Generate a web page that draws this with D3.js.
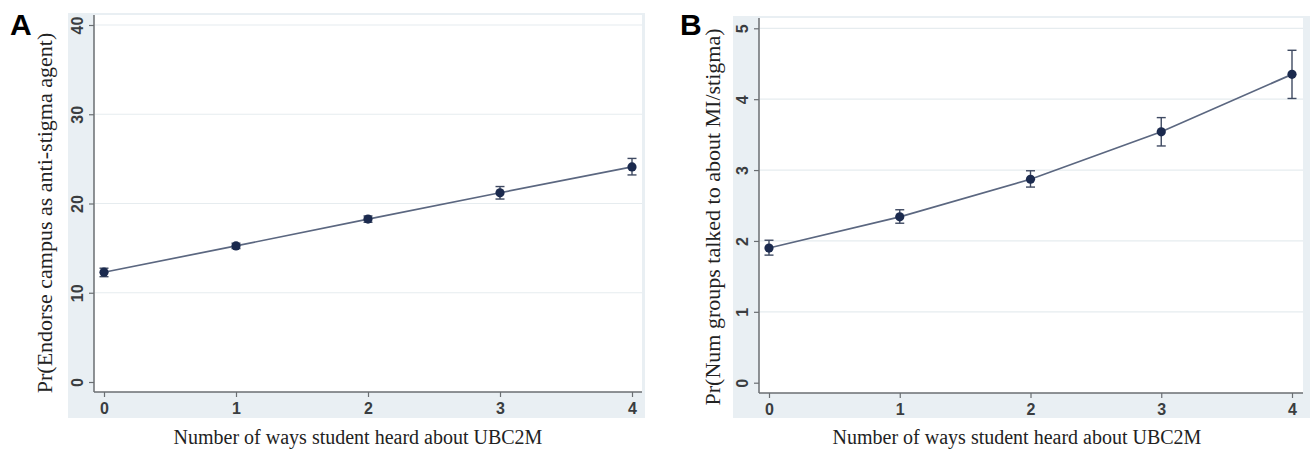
<!DOCTYPE html>
<html>
<head>
<meta charset="utf-8">
<script src="https://cdn.jsdelivr.net/npm/d3@7"></script>
<style>
  html, body { margin: 0; padding: 0; background: #ffffff; }
  svg { display: block; }
</style>
</head>
<body>
<svg id="chart" width="1310" height="450"></svg>
<script>
// ---- data ----
const ways = [0, 1, 2, 3, 4];
const xTicks = [0, 1, 2, 3, 4];

const endorseValues = [12.3, 15.25, 18.25, 21.2, 24.1];
const endorseLower  = [11.8, 14.95, 17.9, 20.5, 23.2];
const endorseUpper  = [12.75, 15.55, 18.6, 21.9, 25.05];
const endorseTicks  = [0, 10, 20, 30, 40];

const groupsValues = [1.90, 2.34, 2.87, 3.54, 4.35];
const groupsLower  = [1.80, 2.25, 2.76, 3.34, 4.01];
const groupsUpper  = [2.01, 2.44, 2.99, 3.74, 4.69];
const groupsTicks  = [0, 1, 2, 3, 4, 5];

const xTitle = "Number of ways student heard about UBC2M";

const svg = d3.select("#chart");
const fmt = d3.format("d");

function panel(cfg) {
  const g = svg.append("g");
  // outer gray region
  g.append("rect")
    .attr("x", cfg.grayX0).attr("y", cfg.grayY0)
    .attr("width", cfg.grayX1 - cfg.grayX0).attr("height", cfg.grayY1 - cfg.grayY0)
    .attr("fill", "#e9eff3");
  // plot region
  g.append("rect")
    .attr("x", cfg.plotX0).attr("y", cfg.plotY0)
    .attr("width", cfg.plotX1 - cfg.plotX0).attr("height", cfg.plotY1 - cfg.plotY0)
    .attr("fill", "#ffffff");

  const x = d3.scaleLinear().domain([0, 4]).range([cfg.x0, cfg.x4]);
  const y = d3.scaleLinear().domain(cfg.yDomain).range(cfg.yRange);

  // grid lines
  g.append("g").selectAll("line")
    .data(cfg.yTicks.filter(d => d !== 0))
    .join("line")
    .attr("x1", cfg.plotX0 + 1).attr("x2", cfg.plotX1)
    .attr("y1", d => y(d)).attr("y2", d => y(d))
    .attr("stroke", "#e6ecef").attr("stroke-width", 1.2);

  // y axis
  const yAxis = g.append("g")
    .attr("transform", `translate(${cfg.plotX0},0)`)
    .call(d3.axisLeft(y).tickValues(cfg.yTicks).tickFormat(fmt).tickSize(5).tickSizeOuter(0));
  yAxis.select(".domain").remove();
  yAxis.append("line")
    .attr("x1", 0).attr("x2", 0)
    .attr("y1", cfg.plotY0).attr("y2", cfg.plotY1)
    .attr("stroke", "#6a6e72").attr("stroke-width", 1.5);
  yAxis.selectAll(".tick line").attr("stroke", "#6a6e72").attr("stroke-width", 1.2);
  yAxis.selectAll(".tick text")
    .attr("fill", "#3a3d40")
    .attr("font-family", "Liberation Sans, Arial, sans-serif")
    .attr("font-weight", "bold")
    .attr("font-size", 16)
    .attr("text-anchor", "middle")
    .attr("dy", "0.35em")
    .attr("x", 0).attr("y", 0)
    .attr("transform", "translate(-17,0) rotate(-90)");

  // x axis
  const xAxis = g.append("g")
    .attr("transform", `translate(0,${cfg.plotY1})`)
    .call(d3.axisBottom(x).tickValues(xTicks).tickFormat(fmt).tickSize(5).tickSizeOuter(0).tickPadding(6));
  xAxis.select(".domain").remove();
  xAxis.append("line")
    .attr("x1", cfg.plotX0).attr("x2", cfg.plotX1)
    .attr("y1", 0).attr("y2", 0)
    .attr("stroke", "#6a6e72").attr("stroke-width", 1.5);
  xAxis.selectAll(".tick line").attr("stroke", "#6a6e72").attr("stroke-width", 1.2);
  xAxis.selectAll(".tick text")
    .attr("fill", "#3a3d40")
    .attr("font-family", "Liberation Sans, Arial, sans-serif")
    .attr("font-weight", "bold")
    .attr("font-size", 16);

  // connecting line
  const pts = ways.map((w, i) => ({ w, v: cfg.values[i], lo: cfg.lower[i], hi: cfg.upper[i] }));
  g.append("path")
    .datum(pts)
    .attr("fill", "none")
    .attr("stroke", "#5b6780")
    .attr("stroke-width", 1.7)
    .attr("d", d3.line().x(d => x(d.w)).y(d => y(d.v)));

  // error bars
  const eb = g.append("g").attr("stroke", "#3f4a62").attr("stroke-width", 1.4);
  eb.selectAll("line.v").data(pts).join("line").attr("class", "v")
    .attr("x1", d => x(d.w)).attr("x2", d => x(d.w))
    .attr("y1", d => y(d.lo)).attr("y2", d => y(d.hi));
  eb.selectAll("line.t").data(pts).join("line").attr("class", "t")
    .attr("x1", d => x(d.w) - 4.5).attr("x2", d => x(d.w) + 4.5)
    .attr("y1", d => y(d.hi)).attr("y2", d => y(d.hi));
  eb.selectAll("line.b").data(pts).join("line").attr("class", "b")
    .attr("x1", d => x(d.w) - 4.5).attr("x2", d => x(d.w) + 4.5)
    .attr("y1", d => y(d.lo)).attr("y2", d => y(d.lo));

  // markers
  g.append("g").selectAll("circle").data(pts).join("circle")
    .attr("cx", d => x(d.w)).attr("cy", d => y(d.v)).attr("r", 4.6)
    .attr("fill", "#1b2a4e");

  // y title
  g.append("text")
    .attr("transform", `translate(${cfg.yTitleX},${cfg.yTitleY}) rotate(-90)`)
    .attr("text-anchor", "middle")
    .attr("font-family", "Liberation Serif, Times New Roman, serif")
    .attr("font-size", 22)
    .attr("fill", "#222")
    .text(cfg.yTitle);

  // x title
  g.append("text")
    .attr("x", cfg.xTitleX).attr("y", 444)
    .attr("text-anchor", "middle")
    .attr("font-family", "Liberation Serif, Times New Roman, serif")
    .attr("font-size", 20)
    .attr("fill", "#222")
    .text(xTitle);

  // panel letter
  g.append("text")
    .attr("x", cfg.letterX).attr("y", 35)
    .attr("font-family", "Liberation Sans, Arial, sans-serif")
    .attr("font-weight", "bold")
    .attr("font-size", 30)
    .attr("fill", "#000")
    .text(cfg.letter);
}

panel({
  letter: "A", letterX: 10,
  grayX0: 68, grayY0: 13, grayX1: 645, grayY1: 418,
  plotX0: 94, plotY0: 15, plotX1: 642, plotY1: 392,
  x0: 104, x4: 632,
  yDomain: [0, 40], yRange: [382, 25],
  yTicks: endorseTicks,
  values: endorseValues, lower: endorseLower, upper: endorseUpper,
  yTitle: "Pr(Endorse campus as anti-stigma agent)",
  yTitleX: 52, yTitleY: 213,
  xTitleX: 358
});

panel({
  letter: "B", letterX: 680,
  grayX0: 733, grayY0: 16, grayX1: 1310, grayY1: 418,
  plotX0: 759, plotY0: 18, plotX1: 1303, plotY1: 393,
  x0: 769, x4: 1292,
  yDomain: [0, 5], yRange: [382.7, 28.3],
  yTicks: groupsTicks,
  values: groupsValues, lower: groupsLower, upper: groupsUpper,
  yTitle: "Pr(Num groups talked to about MI/stigma)",
  yTitleX: 720, yTitleY: 217,
  xTitleX: 1017
});
</script>
</body>
</html>
